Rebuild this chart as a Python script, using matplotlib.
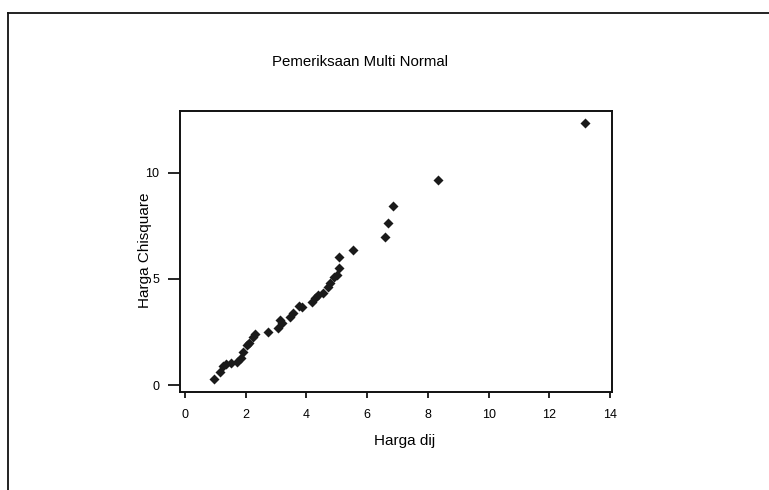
import matplotlib
matplotlib.use("Agg")
import matplotlib.pyplot as plt
from matplotlib.lines import Line2D

harga_dij = [0.96, 1.15, 1.26, 1.35, 1.5, 1.72, 1.83, 1.92, 2.03, 2.1, 2.25, 2.3,
             2.74, 3.07, 3.13, 3.2, 3.46, 3.57, 3.76, 3.84, 4.17, 4.28, 4.39, 4.56,
             4.7, 4.78, 4.89, 5.0, 5.08, 5.08, 5.52, 6.59, 6.68, 6.84, 8.34, 13.18]
harga_chisquare = [0.27, 0.6, 0.9, 0.99, 1.05, 1.1, 1.26, 1.57, 1.89, 2.0, 2.28, 2.4,
                   2.51, 2.67, 3.07, 2.9, 3.22, 3.38, 3.73, 3.69, 3.93, 4.08, 4.25, 4.32,
                   4.6, 4.79, 5.11, 5.2, 5.5, 6.02, 6.37, 7.0, 7.62, 8.44, 9.67, 12.34]
x_ticks = [0, 2, 4, 6, 8, 10, 12, 14]
y_ticks = [0, 5, 10]

plt.rcParams['font.family'] = ['Liberation Sans', 'DejaVu Sans']

W, H = 769, 490
fig = plt.figure(figsize=(W / 100, H / 100), dpi=100)
fig.patch.set_facecolor('white')

ax = fig.add_axes([180 / W, 1 - 392 / H, (612 - 180) / W, (392 - 111) / H])
ax.scatter(harga_dij, harga_chisquare, marker='D', s=26, color='#1a1a1a',
           linewidths=0, zorder=3)
ax.set_xlim(-0.165, 14.06)
ax.set_ylim(-0.33, 12.92)
ax.set_xticks(x_ticks)
ax.set_yticks(y_ticks)
ax.tick_params(axis='x', direction='out', length=4, width=1.2, labelsize=9, pad=8)
ax.tick_params(axis='y', direction='out', length=9, width=1.2, labelsize=9, pad=6)
for s in ax.spines.values():
    s.set_linewidth(1.4)
    s.set_color('#111111')

fig.text(405 / W, 1 - 441 / H, 'Harga dij', ha='center', va='center', fontsize=11)
fig.text(145 / W, 1 - 250 / H, 'Harga Chisquare', ha='center', va='center',
         fontsize=11, rotation=90)
fig.text(360 / W, 1 - 62 / H, 'Pemeriksaan Multi Normal', ha='center', va='center',
         fontsize=10.8)

# outer frame (left and top edges)
fig.add_artist(Line2D([8 / W, 8 / W], [0, 1 - 13 / H], transform=fig.transFigure,
                      color='#111111', linewidth=1.3))
fig.add_artist(Line2D([8 / W, 1], [1 - 13 / H, 1 - 13 / H], transform=fig.transFigure,
                      color='#111111', linewidth=1.3))

fig.savefig('out.png', dpi=100)
